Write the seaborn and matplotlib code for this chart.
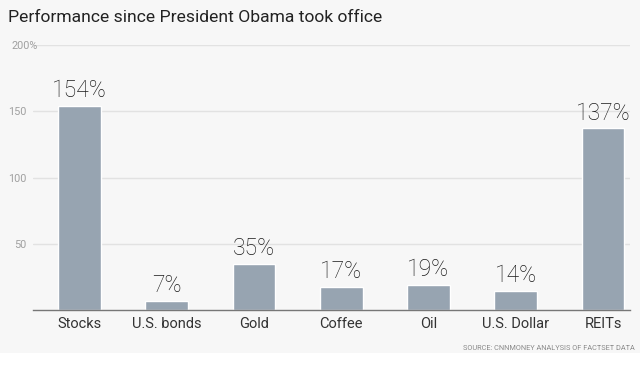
import matplotlib
matplotlib.use("Agg")
import matplotlib.pyplot as plt
import matplotlib.transforms as mtransforms
from matplotlib.patches import Rectangle
import seaborn as sns
import pandas as pd

categories = ["Stocks", "U.S. bonds", "Gold", "Coffee", "Oil", "U.S. Dollar", "REITs"]
values = [154, 7, 35, 17, 19, 14, 137]
ytick_values = [50, 100, 150, 200]
ytick_labels = ["50", "100", "150", "200%"]

title = "Performance since President Obama took office"
source = "SOURCE: CNNMONEY ANALYSIS OF FACTSET DATA"

bg = "#f7f7f7"
bar_color = "#97a4b1"

sns.set_theme(style="white")
plt.rcParams["font.family"] = ["Roboto", "DejaVu Sans"]

fig = plt.figure(figsize=(6.4, 3.69), dpi=100, facecolor="white")
fig.patches.append(Rectangle((0, (369 - 353) / 369), 1, 1, transform=fig.transFigure,
                             facecolor=bg, edgecolor="none", zorder=-10))

ax = fig.add_axes([33 / 640, (369 - 310) / 369, (630 - 33) / 640, (310 - 45) / 369])
ax.set_facecolor("none")

df = pd.DataFrame({"category": categories, "value": values})
sns.barplot(data=df, x="category", y="value", color=bar_color, saturation=1,
            width=0.49, ax=ax, zorder=3)

ax.set_xlim(-0.533, 6.31)
ax.set_ylim(0, 200)
ax.set_yticks(ytick_values)
ax.set_yticklabels(ytick_labels)
ax.tick_params(axis="y", length=0, pad=4.5, labelsize=7.8, labelcolor="#a0a0a0")
ax.tick_params(axis="x", length=0, pad=5, labelsize=10.5, labelcolor="#333333")
for lab in ax.get_yticklabels():
    if lab.get_text().endswith("%"):
        lab.set_transform(lab.get_transform() + mtransforms.ScaledTranslation(11 / 100, 0, fig.dpi_scale_trans))
ax.grid(axis="y", color="#e2e2e2", linewidth=1, zorder=0)
ax.set_xlabel("")
ax.set_ylabel("")
for s in ["top", "right", "left"]:
    ax.spines[s].set_visible(False)
ax.spines["bottom"].set_color("#777777")
ax.spines["bottom"].set_linewidth(1)
ax.spines["bottom"].set_zorder(4)

for i, v in enumerate(values):
    ax.text(i, v + 3, f"{v}%", ha="center", va="bottom", fontsize=16.5,
            color="#1a1a1a", fontweight="light")

fig.text(8 / 640, 1 - 18 / 369, title, ha="left", va="center", fontsize=12.6,
         color="#222222", fontweight="normal")
fig.text(635 / 640, 1 - 349 / 369, source, ha="right", va="center", fontsize=5.3,
         color="#8a8a8a")

fig.savefig("out.png", dpi=100, facecolor=fig.get_facecolor())
